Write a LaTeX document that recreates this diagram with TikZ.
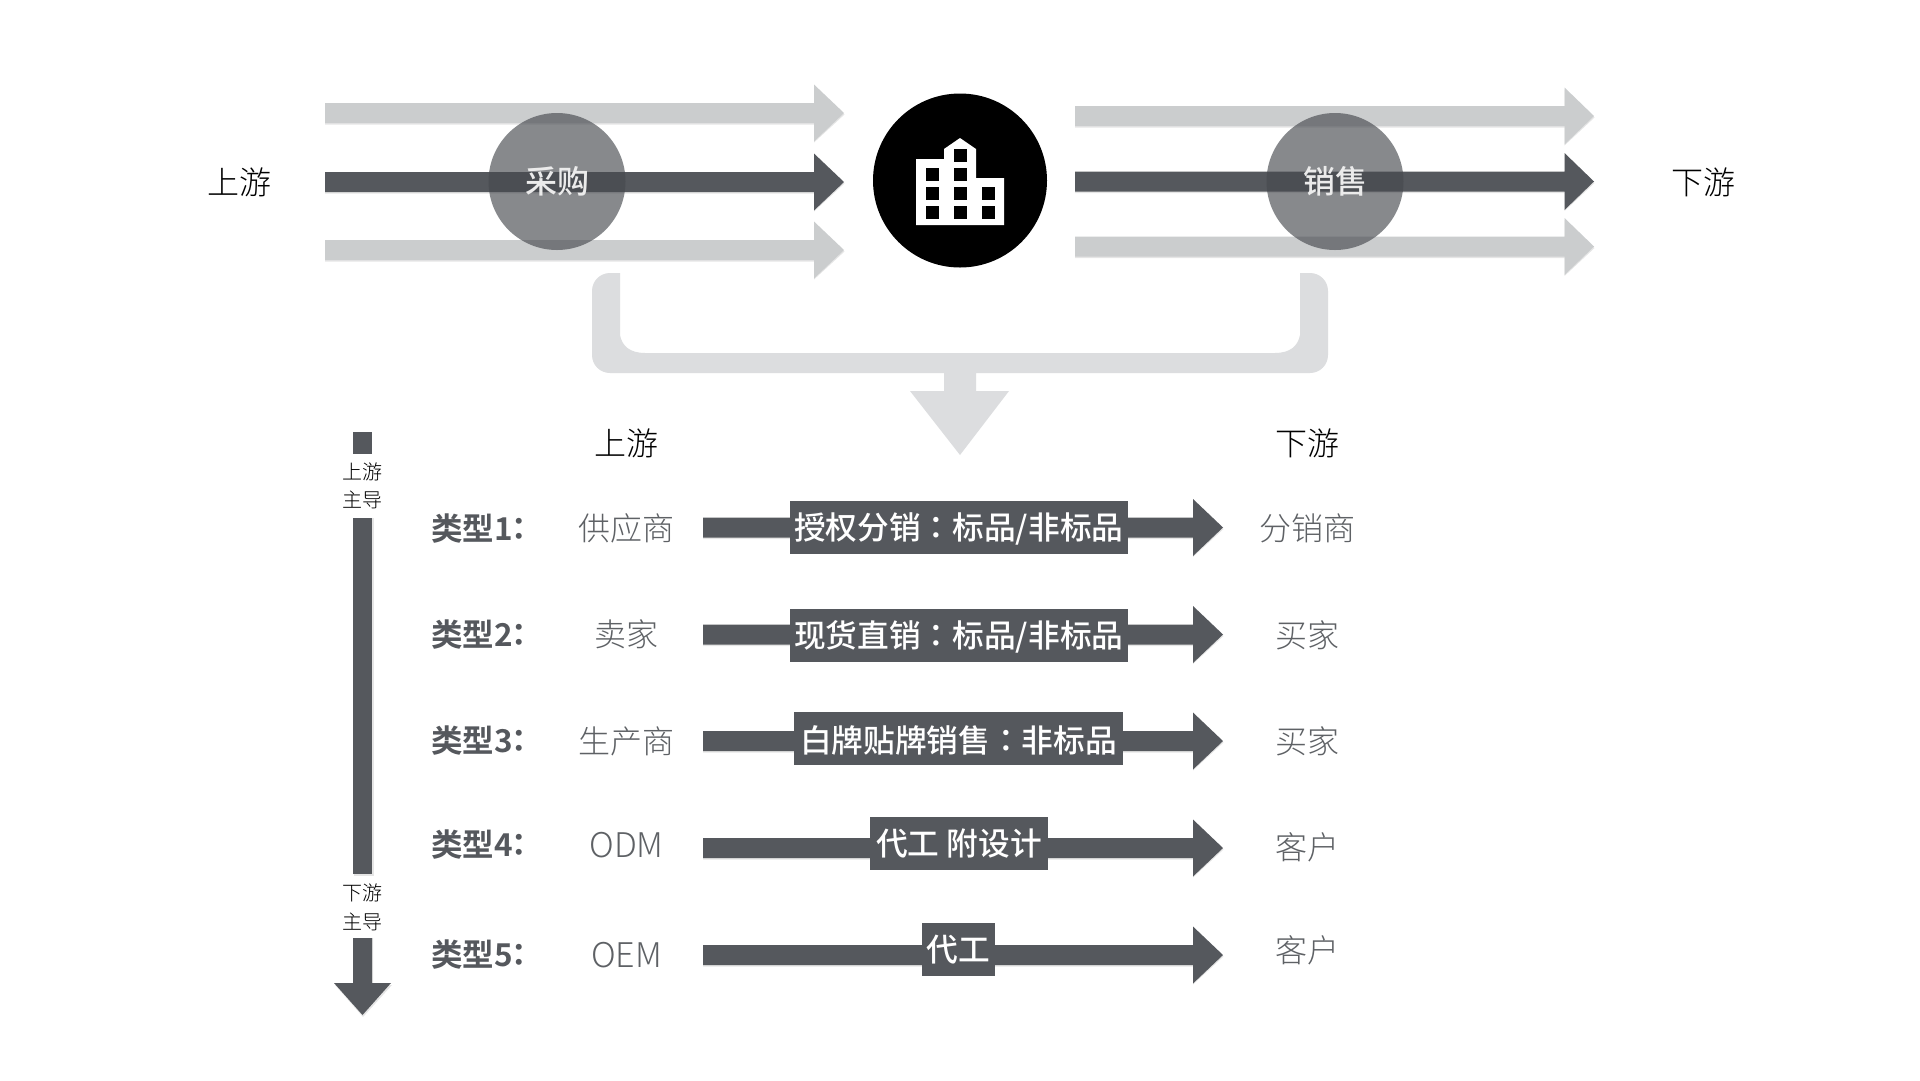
\documentclass[tikz,border=0pt]{standalone}
\usepackage{fontspec}
\setmainfont{Noto Sans CJK SC}[UprightFont=* Light,BoldFont=* Bold]
\newfontfamily\medfont{Noto Sans CJK SC}[UprightFont=* Medium]
\newfontfamily\boldfont{Noto Sans CJK SC}[UprightFont=* Bold]
\newfontfamily\tcmed{Noto Sans CJK TC}[UprightFont=* Medium]
\newfontfamily\tcbold{Noto Sans CJK TC}[UprightFont=* Bold]
\definecolor{darkar}{HTML}{55585D}
\definecolor{lightar}{HTML}{CBCDCE}
\definecolor{brk}{HTML}{DCDDDF}
\definecolor{circ}{HTML}{474A4F}
\definecolor{gtext}{HTML}{5E6165}
\newcommand{\blockarrow}[5]{% x1, base, tip, y, colour
  \fill[black,opacity=.10] ($(#1,#4-8.5)$) -- ($(#2,#4-8.5)$) -- ($(#2,#4-26.5)$) -- ($(#3+.5,#4+1.5)$) -- ($(#2,#4+29.5)$) -- ($(#2,#4+11.5)$) -- ($(#1,#4+11.5)$) -- cycle;
  \fill[#5] ($(#1,#4-10)$) -- ($(#2,#4-10)$) -- ($(#2,#4-28.5)$) -- (#3,#4) -- ($(#2,#4+28.5)$) -- ($(#2,#4+10)$) -- ($(#1,#4+10)$) -- cycle;}
\newcommand{\dropby}[1]{\raisebox{0pt}[\dimexpr\height+3pt\relax][\depth]{#1}}
\usetikzlibrary{calc}
\tikzset{
  big/.style={font=\fontsize{32}{32}\selectfont,inner sep=0pt},
  biggray/.style={big,text=gtext},
  latinlbl/.style={inner sep=0pt,text=gtext,font=\fontsize{34}{34}\selectfont},
  small/.style={font=\fontsize{20}{20}\selectfont,inner sep=0pt},
  kind/.style={inner sep=0pt,anchor=west,text=darkar,font=\fontsize{31.5}{32}\boldfont},
  tag/.style={fill=darkar,text=white,inner sep=0pt,font=\fontsize{31.7}{32}\medfont,minimum height=53pt},
  disc/.style={circle,fill=circ,fill opacity=.65,text opacity=1,text=white!92!black,inner sep=0pt,minimum size=137pt,font=\fontsize{32}{32}\medfont},
}
\begin{document}
\begin{tikzpicture}[x=1pt,y=-1pt]
\useasboundingbox (0,0) rectangle (1920,1080);
\fill[white] (0,0) rectangle (1920,1080);
% upper flows
\blockarrow{325}{814}{844}{113}{lightar}
\blockarrow{325}{814}{844}{182}{darkar}
\blockarrow{325}{814}{844}{250}{lightar}
\blockarrow{1075}{1564.5}{1594}{116}{lightar}
\blockarrow{1075}{1564.5}{1594}{181.5}{darkar}
\blockarrow{1075}{1564.5}{1594}{246.5}{lightar}
\node[disc] (buy) at (557,181.5) {采购};
\node[disc] (sell) at (1335,181.5) {销售};
\node[big] (upA) at (239.5,182) {上游};
\node[big] (downA) at (1703,182) {下游};
% company
\node[circle,fill=black,minimum size=174pt,inner sep=0pt] (firm) at (960,180.5) {};
\fill[white] (916,225) -- (916,159) -- (944,159) -- (944,149) -- (960,138) -- (976,149) -- (976,178) -- (1004,178) -- (1004,225) -- cycle;
\fill[black] (954,149) rectangle (967,162);
\foreach \xx in {926,954}{\fill[black] (\xx,168) rectangle +(13,13);}
\foreach \xx in {926,954,982}{\fill[black] (\xx,187) rectangle +(13,13);
  \fill[black] (\xx,206) rectangle +(13,13);}
% bracket
\fill[brk] (620,273) -- (610,273) .. controls (600,273) and (592,281) .. (592,291)
  -- (592,355) .. controls (592,365) and (600,373) .. (610,373)
  -- (944,373) -- (944,391) -- (910,391) -- (960,455) -- (1009,391) -- (976,391) -- (976,373)
  -- (1310,373) .. controls (1320,373) and (1328,365) .. (1328,355)
  -- (1328,291) .. controls (1328,281) and (1320,273) .. (1310,273)
  -- (1300,273) -- (1300,335) .. controls (1298,346) and (1290,353) .. (1275,353)
  -- (645,353) .. controls (630,353) and (622,346) .. (620,335) -- cycle;
\node[big] (upB) at (626.5,443) {上游};
\node[big] (downB) at (1307,443) {下游};
% axis
\fill[darkar] (353,432) rectangle (372,454);
\node[small] (axA) at (362.5,472) {上游};
\node[small] (axB) at (362.5,500) {主导};
\fill[black,opacity=.10] (353.5,518) rectangle (373.5,875.5);
\fill[darkar] (353,518) rectangle (372,874);
\node[small] (axC) at (362.5,893) {下游};
\node[small] (axD) at (362.5,922) {主导};
\fill[black,opacity=.10] (354,938) -- (373,938) -- (373,985) -- (392,985) -- (363,1017) -- (335,985) -- (354,985) -- cycle;
\fill[darkar] (353,938) -- (372,938) -- (372,983) -- (391,983) -- (362.5,1015) -- (334,983) -- (353,983) -- cycle;
% rows
\blockarrow{703}{1193}{1223}{527.5}{darkar}
\blockarrow{703}{1193}{1223}{634.5}{darkar}
\blockarrow{703}{1193}{1223}{741}{darkar}
\blockarrow{703}{1193}{1223}{848}{darkar}
\blockarrow{703}{1193}{1223}{955}{darkar}
\node[tag,minimum width=337.5pt] (t1) at (958.75,527.5) {\dropby{授权分销{\tcmed ：}标品/非标品}};
\node[tag,minimum width=337.5pt] (t2) at (958.75,635.5) {\dropby{现货直销{\tcmed ：}标品/非标品}};
\node[tag,minimum width=329pt] (t3) at (958.5,738.5) {\dropby{白牌贴牌销售{\tcmed ：}非标品}};
\node[tag,minimum width=178pt] (t4) at (959,843.5) {代工 附设计};
\node[tag,minimum width=73pt] (t5) at (958.5,949.5) {代工};
\node[kind] (k1) at (431,529) {类型1\hspace{-9pt}{\tcbold ：}};
\node[kind] (k2) at (431,635) {类型2\hspace{-9pt}{\tcbold ：}};
\node[kind] (k3) at (431,741) {类型3\hspace{-9pt}{\tcbold ：}};
\node[kind] (k4) at (431,845) {类型4\hspace{-9pt}{\tcbold ：}};
\node[kind] (k5) at (431,955) {类型5\hspace{-9pt}{\tcbold ：}};
\node[biggray] (a1) at (626.5,528) {供应商};
\node[biggray] (a2) at (626.5,634) {卖家};
\node[biggray] (a3) at (626.5,741) {生产商};
\node[latinlbl] (a4) at (626.5,845) {ODM};
\node[latinlbl] (a5) at (626.5,955) {OEM};
\node[biggray] (b1) at (1307,528) {分销商};
\node[biggray] (b2) at (1307,635) {买家};
\node[biggray] (b3) at (1307,741) {买家};
\node[biggray] (b4) at (1307,847) {客户};
\node[biggray] (b5) at (1307,950) {客户};
\end{tikzpicture}
\end{document}
